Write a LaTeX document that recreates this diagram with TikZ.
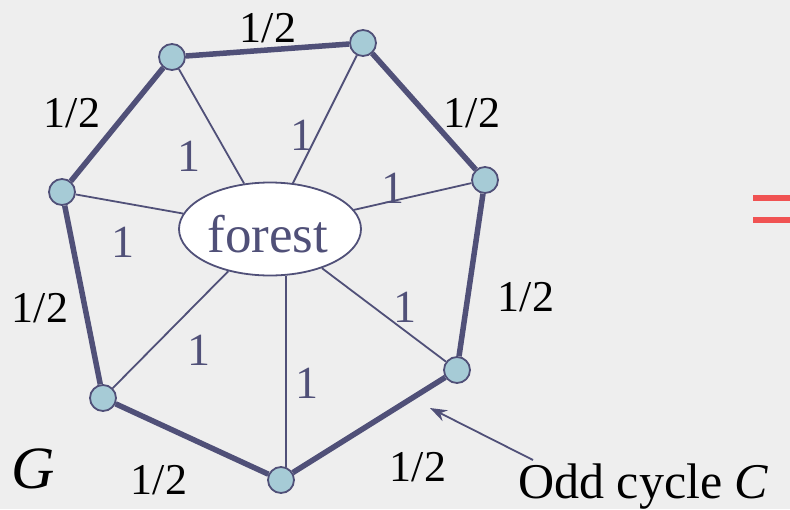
\documentclass[tikz,border=0pt]{standalone}
\usepackage{fontspec}
\setmainfont{Liberation Serif}
\usetikzlibrary{arrows.meta,shapes.geometric}
\definecolor{slate}{RGB}{80,80,120}
\definecolor{nodefill}{RGB}{166,203,214}
\definecolor{bg}{RGB}{238,238,238}
\definecolor{eqred}{RGB}{240,82,82}
\begin{document}
\begin{tikzpicture}[x=1pt,y=-1pt,
  vert/.style={circle,draw=slate,fill=nodefill,line width=1.8pt,minimum size=26pt,inner sep=0pt},
  cyc/.style={draw=slate,line width=5.5pt},
  spoke/.style={draw=slate,line width=1.8pt},
  half/.style={font=\fontsize{44}{48}\selectfont,text=black,inner sep=0pt},
  one/.style={font=\fontsize{46}{48}\selectfont,text=slate,inner sep=0pt},
]
\fill[bg] (0,0) rectangle (790,509);
\useasboundingbox (0,0) rectangle (790,509);

% forest ellipse
\node[ellipse,draw=slate,fill=white,line width=1.8pt,minimum width=182pt,minimum height=93pt,inner sep=0pt] (forest) at (270,229) {};
\node[font=\fontsize{53}{56}\selectfont,text=slate,inner sep=0pt] (forestlabel) at (268,234) {forest};

% vertices
\node[vert] (A) at (172,57) {};
\node[vert] (B) at (363,43) {};
\node[vert] (C) at (485,180) {};
\node[vert] (D) at (457,370) {};
\node[vert] (E) at (281,480) {};
\node[vert] (F) at (103,398) {};
\node[vert] (G) at (62,192) {};

% odd cycle edges
\draw[cyc] (A) -- (B);
\draw[cyc] (B) -- (C);
\draw[cyc] (C) -- (D);
\draw[cyc] (D) -- (E);
\draw[cyc] (E) -- (F);
\draw[cyc] (F) -- (G);
\draw[cyc] (G) -- (A);

% spokes to forest
\draw[spoke] (A) -- (forest);
\draw[spoke] (B) -- (forest);
\draw[spoke] (C) -- (forest);
\draw[spoke] (D) -- (forest);
\draw[spoke] (F) -- (forest);
\draw[spoke] (G) -- (forest);
\draw[spoke] (E.69) -- (E.69 |- forest.south);

% 1/2 labels
\node[half] (hAB) at (268,28) {1/2};
\node[half] (hGA) at (72,113) {1/2};
\node[half] (hBC) at (472,113) {1/2};
\node[half] (hFG) at (40,308) {1/2};
\node[half] (hCD) at (526,297) {1/2};
\node[half] (hEF) at (159,480) {1/2};
\node[half] (hDE) at (418,467) {1/2};

% 1 labels
\node[one] (oA) at (189,156) {1};
\node[one] (oB) at (302,135) {1};
\node[one] (oC) at (393,188) {1};
\node[one] (oG) at (123,242) {1};
\node[one] (oD) at (405,307) {1};
\node[one] (oF) at (199,350) {1};
\node[one] (oE) at (307,383) {1};

% graph name
\node[font=\fontsize{60}{64}\selectfont\itshape,inner sep=0pt] (gname) at (33,469) {G};

% odd cycle caption and arrow
\node[font=\fontsize{50}{54}\selectfont,anchor=base west,inner sep=0pt] (oddc) at (518,498) {Odd cycle \textit{C}};
\coordinate (arrtail) at (533,460);
\coordinate (arrtip) at (430,408);
\draw[slate,line width=1.8pt,-{Stealth[length=17pt,width=12pt]}] (arrtail) -- (arrtip);

% partial red equals sign
\fill[eqred] (753,195) rectangle (790,201);
\fill[eqred] (753,217) rectangle (790,223);
\end{tikzpicture}
\end{document}
